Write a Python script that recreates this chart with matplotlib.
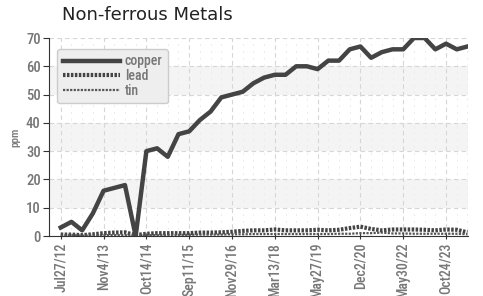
import matplotlib
matplotlib.use("Agg")
import matplotlib.pyplot as plt
from matplotlib import font_manager
import numpy as np

# copper / lead / tin readings (ppm), one per sample date
copper = [3, 5, 2, 8, 16, 17, 18, 0, 30, 31, 28, 36, 37, 41, 44, 49, 50, 51, 54, 56,
          57, 57, 60, 60, 59, 62, 62, 66, 67, 63, 65, 66, 66, 70, 70, 66, 68, 66, 67]
lead = [0.5, 0.5, 0.3, 0.6, 1.0, 1.2, 1.3, 0.3, 0.8, 1.0, 1.0, 1.0, 1.0, 1.2, 1.2, 1.3, 1.5, 1.8, 2.0, 2.0,
        2.3, 2.0, 2.0, 2.0, 2.2, 2.0, 2.2, 2.8, 3.3, 2.5, 2.0, 2.3, 2.3, 2.3, 2.2, 2.0, 2.3, 2.2, 1.3]
tin = [0.2, 0.3, 0.1, 0.2, 0.3, 0.3, 0.3, 0.1, 0.3, 0.3, 0.4, 0.4, 0.4, 0.5, 0.5, 0.5, 0.6, 0.6, 0.7, 0.7,
       0.7, 0.7, 0.7, 0.7, 0.7, 0.7, 0.8, 0.8, 1.0, 1.0, 1.2, 0.9, 0.9, 0.8, 0.8, 0.8, 0.8, 0.8, 0.6]
tickLabels = ['Jul27/12', 'Nov4/13', 'Oct14/14', 'Sep11/15', 'Nov29/16',
              'Mar13/18', 'May27/19', 'Dec2/20', 'May30/22', 'Oct24/23']
tickEvery = 4

grey = '#777777'
lineCol = '#444444'

# look for a condensed face, otherwise fall back to plain DejaVu
condPath = None
for f in font_manager.findSystemFonts():
    name = f.split('/')[-1].lower()
    if 'condensed' in name and 'bold' not in name and 'oblique' not in name and 'italic' not in name:
        if condPath is None or 'roboto' in name or 'sans' in name:
            condPath = f
narrow = font_manager.FontProperties(fname=condPath) if condPath else font_manager.FontProperties(family='DejaVu Sans')


def nprop(size):
    p = narrow.copy()
    p.set_size(size)
    return p


fig = plt.figure(figsize=(4.83, 2.96), dpi=100)
ax = fig.add_axes([0.1014, 0.2027, 0.8675, 0.6689])

x = np.arange(len(copper))

# alternating bands behind the grid
for lo in (10, 30, 50):
    ax.axhspan(lo, lo + 10, color='#f4f4f4', zorder=0, lw=0)

ax.plot(x, copper, color=lineCol, lw=3.2, solid_joinstyle='round', label='copper', zorder=4)
ax.plot(x, lead, color=lineCol, lw=3.0, linestyle=(0, (0.6, 0.35)), label='lead', zorder=3)
ax.plot(x, tin, color='#555555', lw=1.6, linestyle=(0, (1, 0.6)), label='tin', zorder=3)

ax.set_xlim(-1.1, 38.05)
ax.set_ylim(0, 70)
ax.set_yticks(range(0, 71, 10))
ax.set_xticks(x[::tickEvery])
ax.set_xticklabels(tickLabels, rotation=90, fontproperties=nprop(10), color=grey)
ax.set_xticks(x, minor=True)
for lbl in ax.get_yticklabels():
    lbl.set_fontproperties(nprop(10.5))
    lbl.set_color(grey)

ax.grid(True, which='major', linestyle=(0, (4, 3)), color='#d6d6d6', lw=0.8, zorder=1)
ax.grid(True, which='minor', axis='x', linestyle=(0, (2, 5)), color='#ebebeb', lw=0.7, zorder=1)
ax.set_axisbelow(True)

ax.spines['top'].set_visible(False)
ax.spines['right'].set_visible(False)
ax.spines['left'].set_color('#333333')
ax.spines['bottom'].set_color('#333333')
ax.tick_params(axis='y', length=4, color='#333333', pad=2)
ax.tick_params(axis='x', which='major', length=4, direction='inout', color='#333333', pad=3)
ax.tick_params(axis='x', which='minor', length=0)

ax.set_ylabel('ppm', fontproperties=nprop(8), color=grey, labelpad=4)

leg = ax.legend(loc='upper left', bbox_to_anchor=(0.02, 0.945), borderaxespad=0,
                handlelength=4.1, handletextpad=0.35, labelspacing=0.05, borderpad=0.4,
                fancybox=True, framealpha=1, facecolor='#eeeeee', edgecolor='#cccccc',
                prop=nprop(10))
for t in leg.get_texts():
    t.set_color(grey)

fig.text(62 / 483, 1 - 20 / 296, 'Non-ferrous Metals', fontsize=13, color='#222222',
         ha='left', va='baseline')

fig.savefig('out.png', dpi=100)
